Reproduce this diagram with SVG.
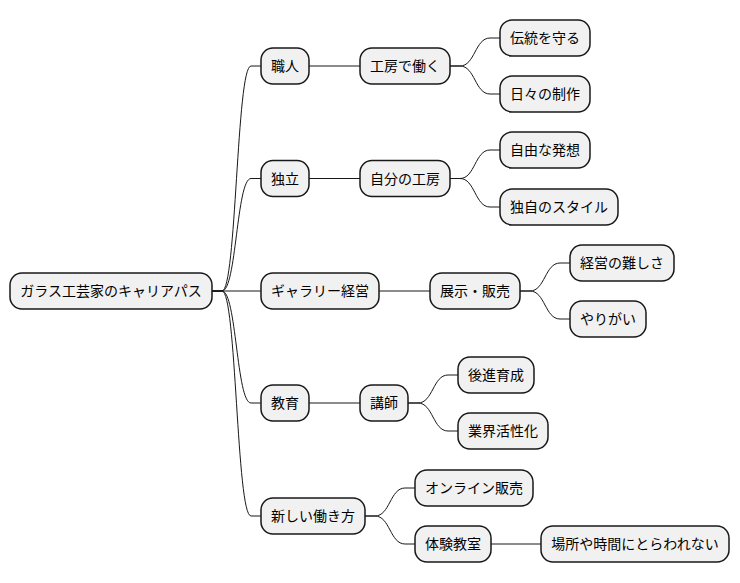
<svg xmlns="http://www.w3.org/2000/svg" width="740" height="583" viewBox="0 0 740 583">
<style>
.n rect{fill:#F1F1F1;stroke:#181818;stroke-width:1.5}
.n text{font-family:"Noto Sans CJK JP","Noto Sans",sans-serif;font-size:14px;fill:#000;text-anchor:middle}
#connectors path{fill:none;stroke:#181818;stroke-width:1}
</style>
<rect width="740" height="583" fill="#FFFFFF"/>
<g id="connectors">
<path d="M212,291 H222 C236.5,291 236.5,66 251,66 H261"/>
<path d="M212,291 H222 C236.5,291 236.5,178.5 251,178.5 H261"/>
<path d="M212,291 H261"/>
<path d="M212,291 H222 C236.5,291 236.5,403 251,403 H261"/>
<path d="M212,291 H222 C236.5,291 236.5,516 251,516 H261"/>
<path d="M309,66 H360"/>
<path d="M309,178.5 H360"/>
<path d="M379,291 H430"/>
<path d="M309,403 H360"/>
<path d="M365,516 H375 C390,516 390,488 405,488 H415"/>
<path d="M365,516 H375 C390,516 390,544 405,544 H415"/>
<path d="M450,66 H460 C475,66 475,38 490,38 H500"/>
<path d="M450,66 H460 C475,66 475,94 490,94 H500"/>
<path d="M450,178.5 H460 C475,178.5 475,150 490,150 H500"/>
<path d="M450,178.5 H460 C475,178.5 475,207 490,207 H500"/>
<path d="M520,291 H530 C545,291 545,263 560,263 H570"/>
<path d="M520,291 H530 C545,291 545,319 560,319 H570"/>
<path d="M408,403 H418 C433,403 433,375 448,375 H458"/>
<path d="M408,403 H418 C433,403 433,431 448,431 H458"/>
<path d="M491,544 H541"/>
</g>
<g id="root" class="n"><rect x="10" y="273" width="202" height="36" rx="12"/><text x="111" y="296">ガラス工芸家のキャリアパス</text></g>
<g id="shokunin" class="n"><rect x="261" y="48" width="48" height="36" rx="12"/><text x="285" y="71">職人</text></g>
<g id="dokuritsu" class="n"><rect x="261" y="160.5" width="48" height="36" rx="12"/><text x="285" y="183.5">独立</text></g>
<g id="gallery" class="n"><rect x="261" y="273" width="118" height="36" rx="12"/><text x="320" y="296">ギャラリー経営</text></g>
<g id="kyoiku" class="n"><rect x="261" y="385" width="48" height="36" rx="12"/><text x="285" y="408">教育</text></g>
<g id="atarashii" class="n"><rect x="261" y="498" width="104" height="36" rx="12"/><text x="313" y="521">新しい働き方</text></g>
<g id="kobo" class="n"><rect x="360" y="48" width="90" height="36" rx="12"/><text x="405" y="71">工房で働く</text></g>
<g id="jibun" class="n"><rect x="360" y="160.5" width="90" height="36" rx="12"/><text x="405" y="183.5">自分の工房</text></g>
<g id="tenji" class="n"><rect x="430" y="273" width="90" height="36" rx="12"/><text x="475" y="296">展示・販売</text></g>
<g id="koshi" class="n"><rect x="360" y="385" width="48" height="36" rx="12"/><text x="384" y="408">講師</text></g>
<g id="online" class="n"><rect x="415" y="470" width="118" height="36" rx="12"/><text x="474" y="493">オンライン販売</text></g>
<g id="taiken" class="n"><rect x="415" y="526" width="76" height="36" rx="12"/><text x="453" y="549">体験教室</text></g>
<g id="dento" class="n"><rect x="500" y="20" width="90" height="36" rx="12"/><text x="545" y="43">伝統を守る</text></g>
<g id="hibi" class="n"><rect x="500" y="76" width="90" height="36" rx="12"/><text x="545" y="99">日々の制作</text></g>
<g id="jiyu" class="n"><rect x="500" y="132" width="90" height="36" rx="12"/><text x="545" y="155">自由な発想</text></g>
<g id="dokuji" class="n"><rect x="500" y="189" width="118" height="36" rx="12"/><text x="559" y="212">独自のスタイル</text></g>
<g id="keiei" class="n"><rect x="570" y="245" width="104" height="36" rx="12"/><text x="622" y="268">経営の難しさ</text></g>
<g id="yarigai" class="n"><rect x="570" y="301" width="76" height="36" rx="12"/><text x="608" y="324">やりがい</text></g>
<g id="kohai" class="n"><rect x="458" y="357" width="76" height="36" rx="12"/><text x="496" y="380">後進育成</text></g>
<g id="gyokai" class="n"><rect x="458" y="413" width="90" height="36" rx="12"/><text x="503" y="436">業界活性化</text></g>
<g id="basho" class="n"><rect x="541" y="526" width="188" height="36" rx="12"/><text x="635" y="549">場所や時間にとらわれない</text></g>
</svg>
